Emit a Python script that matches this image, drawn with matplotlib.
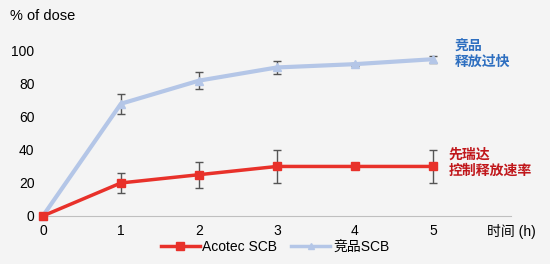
import matplotlib
matplotlib.use("Agg")
import matplotlib.pyplot as plt
from matplotlib.lines import Line2D

plt.rcParams['font.family'] = ['Liberation Sans', 'Noto Sans CJK SC', 'DejaVu Sans']

# dati
hours = [0, 1, 2, 3, 4, 5]
acotec = [0, 20, 25, 30, 30, 30]
acotec_err = [0, 6, 8, 10, 0, 10]
competitor = [0, 68, 82, 90, 92, 95]
competitor_err = [0, 6, 5, 4, 1, 2]
x_ticks = [0, 1, 2, 3, 4, 5, 6]
x_labels = ["0", "1", "2", "3", "4", "5", "时间 (h)"]
y_ticks = [0, 20, 40, 60, 80, 100]

bg = "#f4f4f4"
red = "#e8312a"
blue = "#b4c6e7"
fig = plt.figure(figsize=(5.5, 2.64), dpi=100, facecolor=bg)
ax = fig.add_axes([0.078, 0.182, 0.851, 0.6875], facecolor=bg)

ax.errorbar(hours, competitor, yerr=competitor_err, color=blue, lw=3,
            marker="^", ms=6, ecolor="#555555", elinewidth=1, capsize=3,
            zorder=2)
ax.errorbar(hours, acotec, yerr=acotec_err, color=red, lw=2.5,
            marker="s", ms=6, ecolor="#555555", elinewidth=1, capsize=3,
            zorder=3)

ax.set_xlim(0, 6)
ax.set_ylim(0, 110)
ax.set_xticks(x_ticks)
ax.set_xticklabels(x_labels)
ax.set_yticks(y_ticks)
ax.tick_params(length=0, labelsize=10, pad=6)
for s in ["top", "right", "left"]:
    ax.spines[s].set_visible(False)
ax.spines["bottom"].set_color("#bfbfbf")
for ln in ax.lines:
    ln.set_clip_on(False)

fig.text(0.018, 0.965, "% of dose", fontsize=10.5, va="top", ha="left")

fig.text(0.826, 0.85, "竞品\n释放过快", color="#2e6fc0", fontsize=10,
         fontweight="bold", va="top", ha="left", linespacing=1.15,
         family=['Noto Sans CJK SC', 'DejaVu Sans'])
fig.text(0.816, 0.44, "先瑞达\n控制释放速率", color="#c0161a", fontsize=10,
         fontweight="bold", va="top", ha="left", linespacing=1.15,
         family=['Noto Sans CJK SC', 'DejaVu Sans'])

handles = [Line2D([], [], color=red, lw=2.5, marker="s", ms=6),
           Line2D([], [], color=blue, lw=2.5, marker="^", ms=5)]
fig.legend(handles, ["Acotec SCB", "竞品SCB"], loc="lower center",
           bbox_to_anchor=(0.5, -0.01), ncol=2, frameon=False, fontsize=10,
           handlelength=2.8, handletextpad=0.2, columnspacing=1.0)

fig.savefig("out.png", dpi=100, facecolor=bg)
